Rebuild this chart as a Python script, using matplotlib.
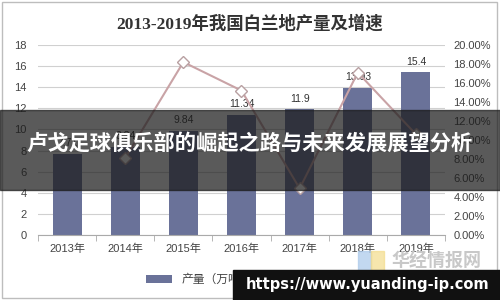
import numpy as np
import matplotlib.pyplot as plt
from matplotlib.patches import Rectangle

plt.rcParams['font.family'] = ['Liberation Sans', 'Noto Sans CJK SC']

years = ['2013年', '2014年', '2015年', '2016年', '2017年', '2018年', '2019年']
output = [7.71, 8.34, 9.84, 11.34, 11.9, 13.93, 15.4]
growth = [None, 8.1, 18.2, 15.2, 4.9, 17.1, 10.6]
bar_labels = ['7.71', '8.34', '9.84', '11.34', '11.9', '13.93', '15.4']
left_ticks = [0, 2, 4, 6, 8, 10, 12, 14, 16, 18]
right_ticks = [0, 2, 4, 6, 8, 10, 12, 14, 16, 18, 20]

fig = plt.figure(figsize=(5, 3), dpi=100)
fig.patches.append(Rectangle((0.004, 0.006), 0.99, 0.988, transform=fig.transFigure,
                             fill=False, edgecolor='#bdbdbd', linewidth=1))
ax = fig.add_axes([0.076, 0.2167, 0.814, 0.6333])
x = np.arange(len(years))
bars = ax.bar(x, output, width=0.5, color='#6a7299', zorder=2, label='产量（万吨）')
for i, v in enumerate(output):
    ax.text(x[i], v + 0.55, bar_labels[i], ha='center', va='bottom', fontsize=7.5, color='#333333')
ax.set_ylim(0, 18)
ax.set_xlim(-0.5, 6.5)
ax.set_yticks(left_ticks)
ax.yaxis.grid(True, color='#d0d0d0', linewidth=0.8, zorder=0)
ax.set_axisbelow(True)
for s in ['left', 'right', 'top']:
    ax.spines[s].set_visible(False)
ax.spines['bottom'].set_color('#aaaaaa')
ax.tick_params(axis='y', length=0, labelsize=8, labelcolor='#444444', pad=8)
ax.set_xticks(x)
ax.set_xticklabels(years, fontsize=8, color='#444444')
ax.tick_params(axis='x', length=0, pad=6)
ax.set_xticks(np.arange(-0.5, 7, 1), minor=True)
ax.tick_params(axis='x', which='minor', length=4, color='#aaaaaa')

ax2 = ax.twinx()
gx = [x[i] for i in range(len(growth)) if growth[i] is not None]
gy = [g for g in growth if g is not None]
ax2.plot(gx, gy, color='#c9a3a6', linewidth=1.5, marker='D', markersize=6,
         markerfacecolor='white', markeredgecolor='#b8a0a2', zorder=3, label='增速（%）')
ax2.set_ylim(0, 20)
ax2.set_yticks(right_ticks)
ax2.set_yticklabels(['%.2f%%' % t for t in right_ticks])
ax2.tick_params(axis='y', length=0, labelsize=8, labelcolor='#444444', pad=6)
for s in ['left', 'right', 'top', 'bottom']:
    ax2.spines[s].set_visible(False)

fig.text(0.5, 0.922, '2013-2019年我国白兰地产量及增速', ha='center', va='center',
         fontsize=12.5, fontweight='bold', color='#333333',
         family=['Liberation Serif', 'Noto Sans CJK SC'])

h1, l1 = ax.get_legend_handles_labels()
h2, l2 = ax2.get_legend_handles_labels()
fig.legend(h1 + h2, l1 + l2, loc='center', bbox_to_anchor=(0.52, 0.067), ncol=2,
           frameon=False, fontsize=8.5, handlelength=2.2, columnspacing=2.5,
           labelcolor='#444444')

# watermark
fig.patches.append(Rectangle((0.716, 0.063), 0.025, 0.1, transform=fig.transFigure,
                             color='#a9c8ea', alpha=0.7, zorder=5))
fig.patches.append(Rectangle((0.742, 0.063), 0.025, 0.1, transform=fig.transFigure,
                             color='#f3dc8a', alpha=0.7, zorder=5))
fig.text(0.872, 0.128, '华经情报网', ha='center', va='center', fontsize=13,
         color='#c8c8c8', fontweight='bold', family=['Noto Sans CJK SC'], zorder=5)

# overlay banner
fig.patches.append(Rectangle((0, 0.367), 1, 0.267, transform=fig.transFigure,
                             color='#1a1a1a', alpha=0.72, zorder=10))
fig.text(0.5, 0.523, '卢戈足球俱乐部的崛起之路与未来发展展望分析', ha='center', va='center',
         fontsize=15.3, fontweight='bold', color='white',
         family=['Noto Sans CJK SC'], zorder=11)

fig.patches.append(Rectangle((0.466, 0), 0.534, 0.1, transform=fig.transFigure,
                             color='#111111', zorder=10))
fig.text(0.735, 0.05, 'https://www.yuanding-ip.com', ha='center', va='center',
         fontsize=10.5, fontweight='bold', color='white',
         family=['DejaVu Sans'], zorder=11)

fig.savefig('out.png', dpi=100)
